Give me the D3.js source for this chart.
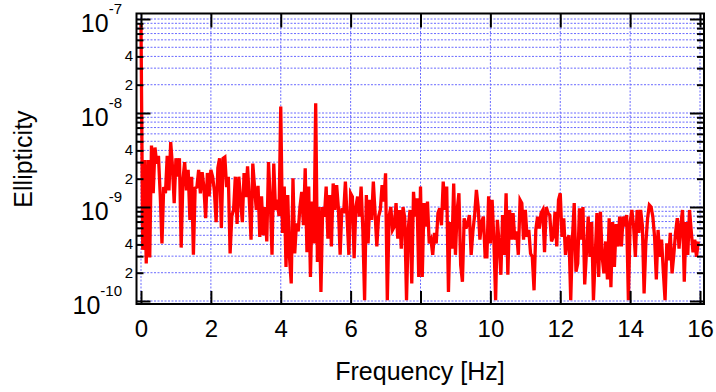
<!DOCTYPE html>
<html><head><meta charset="utf-8">
<script src="https://cdn.jsdelivr.net/npm/d3@7"></script>
<style>
body{margin:0;background:#fff}
svg{display:block}
text{font-family:"Liberation Sans",Arial,Helvetica,sans-serif;fill:#000}
</style>
</head><body>
<svg id="c" width="716" height="392"></svg>
<script>
// ---- data ----
const xTickValues = [0, 2, 4, 6, 8, 10, 12, 14, 16];
const decadeValues = [1e-10, 1e-9, 1e-8, 1e-7];
const decadeExponents = ["-10", "-9", "-8", "-7"];
const minorMultipliers = [2, 3, 4, 5, 6, 7, 8, 9];
const labelledMinor = [2, 4];
const xTitle = "Frequency [Hz]";
const yTitle = "Ellipticity";
const freqStep = 0.05; // Hz between samples
// ellipticity in units of 1e-10
const ellipticityE10 = [
  // 0 - 3.95 Hz
  900, 3.5, 31.6, 2.5, 31.6, 2.9, 45, 14, 43, 29,
  35, 13.5, 4.1, 16.3, 14, 35, 15, 49, 27, 11,
  33, 21, 33, 3.7, 19.4, 30, 15, 24.8, 7.3, 21,
  3.1, 15.9, 16.3, 24.8, 14, 23.5, 16.3, 7.6, 23, 13,
  24.8, 21, 15, 6.9, 26, 33, 6.0, 33, 34, 16.3,
  21, 3.2, 8, 9.3, 21, 6.6, 21, 11.9, 6.9, 23,
  12.7, 27, 11.9, 4.5, 29, 16.3, 9.3, 16.8, 4.8, 13,
  5.0, 10, 4.3, 30, 11.9, 3.1, 29, 9.3, 12, 8,
  // 4 - 7.95 Hz
  117, 5.3, 16.5, 2.3, 13.4, 2.95, 1.54, 20.2, 3.2, 6.7,
  5.5, 10, 14.5, 6.4, 25.8, 3.3, 16.5, 1.8, 11.4, 4.1,
  127, 2.6, 10, 1.25, 10, 7.9, 16.5, 4.6, 13.4, 3.8,
  17.8, 9.3, 17.1, 9.7, 3.1, 9.7, 8.6, 18.6, 7.6,
  3.1, 14, 12.9, 2.85, 10, 12.9, 7.9, 16.5, 5.7, 1.02,
  13.4, 4.1, 11.9, 7.3, 18.6, 8.6, 3.8, 7.9, 9.3,
  17.1, 11.4, 22.8, 1.02, 7.9, 10, 5.7, 6.2,
  11, 4.6, 9.3, 3.6, 10, 7.6, 1.02, 5.9, 9.3, 1.54,
  14.5, 7.9, 12.4, 1.8,
  // 8 - 11.95 Hz
  16.5,
  1.8, 11, 6.2, 11.4, 4.1, 4.5, 3.1, 5.3, 4.1, 8.6,
  9.7, 6.4, 18.6, 9.3, 16.5, 1.25, 6.9, 3.6, 17.8, 3.1,
  9.3, 14, 2.4, 1.6, 7.6, 5.9, 6.7, 8.2, 3.1,
  5.5, 8.2, 15.2, 10, 4.5, 6.9, 7.9, 2.95, 2.95,
  13, 4.1, 11.9, 4.5, 1.02, 7.3, 4.1, 1.9, 8.2, 3.1,
  14, 1.9, 9.3, 4.5, 8.6, 4.5, 5.5, 3.1, 11.9,
  11, 4.5, 9.3, 4.8, 5.7, 3.2, 2.95, 1.3, 5.7, 7.9,
  5.9, 8.6, 9.3, 3.3, 10, 8.6, 8.2, 4.3, 4.8,
  8.9, 3.8, 11.9,
  // 12 - 15.95 Hz
  14, 4.8, 7.6, 3.1, 4.5, 5.0, 1.02, 4.8, 11,
  2.05, 2.5, 9.7, 4.5, 10, 1.5, 3.3, 7.9, 2.95, 6.9,
  1.02, 2.95, 8.6, 1.8, 8.9, 2.95, 1.97, 4.3, 1.7,
  7.6, 1.4, 6.9, 2.3, 6.6, 3.8, 7.9, 3.8, 7.9, 6.2,
  8.2, 1.02, 6.9, 9.3, 6.2, 2.95, 9.3, 5.3, 9.3,
  6.4, 1.2, 4.1, 7.6, 10.5, 10, 7.9, 4.8, 1.7, 5.7,
  2.95, 4.5, 2.05, 1.02, 4.1, 2.7, 5.3, 1.97, 3.1, 5.3,
  7.6, 3.6, 6.4, 9.3, 1.6, 6.9, 3.1, 9.3, 5.5,
  3.3, 4.5, 2.95, 4.3
];
const ellipticity = ellipticityE10.map(v => v * 1e-10);
const frequency = ellipticity.map((_, i) => i * freqStep);

// ---- layout ----
const frame = {left: 136.5, right: 704, top: 13.5, bottom: 304};
const x = d3.scaleLinear().domain([0, 16]).range([141, 700]);
const y = d3.scaleLog().domain([1e-10, 1e-7]).range([301, 19]);

const minorValues = [];
decadeValues.slice(0, -1).forEach(d => minorMultipliers.forEach(m => minorValues.push(m * d)));
const gridYValues = decadeValues.concat(minorValues);

const svg = d3.select("#c");
const gridColor = "#6a6aff";

// grid
svg.append("g").selectAll("line").data(gridYValues).join("line")
  .attr("x1", frame.left).attr("x2", frame.right)
  .attr("y1", d => y(d)).attr("y2", d => y(d))
  .attr("stroke", gridColor).attr("stroke-width", 1).attr("stroke-dasharray", "2,1.5");
svg.append("g").selectAll("line").data(xTickValues).join("line")
  .attr("x1", d => x(d)).attr("x2", d => x(d))
  .attr("y1", frame.top).attr("y2", frame.bottom)
  .attr("stroke", gridColor).attr("stroke-width", 1).attr("stroke-dasharray", "2,1.5");

// data line
const line = d3.line().x((d, i) => x(frequency[i])).y(d => y(d));
svg.append("path").datum(ellipticity)
  .attr("d", line).attr("fill", "none")
  .attr("stroke", "#ff0000").attr("stroke-width", 3.3);

// axes (ticks)
function styleAxis(g) {
  g.select(".domain").remove();
  g.selectAll(".tick line").attr("stroke", "#000").attr("stroke-width", 2);
  g.attr("font-family", null);
}
svg.append("g").attr("transform", `translate(0,${frame.bottom})`)
  .call(d3.axisBottom(x).tickValues(xTickValues).tickSizeInner(-13).tickSizeOuter(0)
    .tickPadding(16).tickFormat(d3.format("d")))
  .call(styleAxis)
  .call(g => g.attr("font-size", 24));
svg.append("g").attr("transform", `translate(0,${frame.top})`)
  .call(d3.axisTop(x).tickValues(xTickValues).tickSizeInner(-14).tickSizeOuter(0).tickFormat(""))
  .call(styleAxis);
svg.append("g").attr("transform", `translate(${frame.left},0)`)
  .call(d3.axisLeft(y).tickValues(decadeValues).tickSizeInner(-14).tickSizeOuter(0).tickFormat(""))
  .call(styleAxis);
svg.append("g").attr("transform", `translate(${frame.left},0)`)
  .call(d3.axisLeft(y).tickValues(minorValues).tickSizeInner(-7).tickSizeOuter(0).tickFormat(""))
  .call(styleAxis);
svg.append("g").attr("transform", `translate(${frame.right},0)`)
  .call(d3.axisRight(y).tickValues(decadeValues).tickSizeInner(-14).tickSizeOuter(0).tickFormat(""))
  .call(styleAxis);
svg.append("g").attr("transform", `translate(${frame.right},0)`)
  .call(d3.axisRight(y).tickValues(minorValues).tickSizeInner(-7).tickSizeOuter(0).tickFormat(""))
  .call(styleAxis);

// frame
svg.append("rect")
  .attr("x", frame.left).attr("y", frame.top)
  .attr("width", frame.right - frame.left).attr("height", frame.bottom - frame.top)
  .attr("fill", "none").attr("stroke", "#000").attr("stroke-width", 2);

// y decade labels
const decLab = svg.append("g").selectAll("text").data(decadeValues).join("text")
  .attr("x", 122).attr("y", d => y(d) + 13)
  .attr("text-anchor", "end").attr("font-size", 25);
decLab.append("tspan").text("10");
decLab.append("tspan").attr("font-size", 15).attr("dy", -18)
  .text((d, i) => decadeExponents[i]);

// minor labels 2 and 4
const minorLabelValues = [];
decadeValues.slice(0, -1).forEach(d => labelledMinor.forEach(m => minorLabelValues.push({v: m * d, m})));
svg.append("g").selectAll("text").data(minorLabelValues).join("text")
  .attr("x", 133).attr("y", d => y(d.v) + 5)
  .attr("text-anchor", "end").attr("font-size", 15)
  .text(d => d.m);

// titles
svg.append("text").attr("x", 420).attr("y", 380).attr("text-anchor", "middle")
  .attr("font-size", 25).text(xTitle);
svg.append("text").attr("transform", "translate(32,159) rotate(-90)")
  .attr("text-anchor", "middle").attr("font-size", 25).text(yTitle);
</script>
</body></html>
